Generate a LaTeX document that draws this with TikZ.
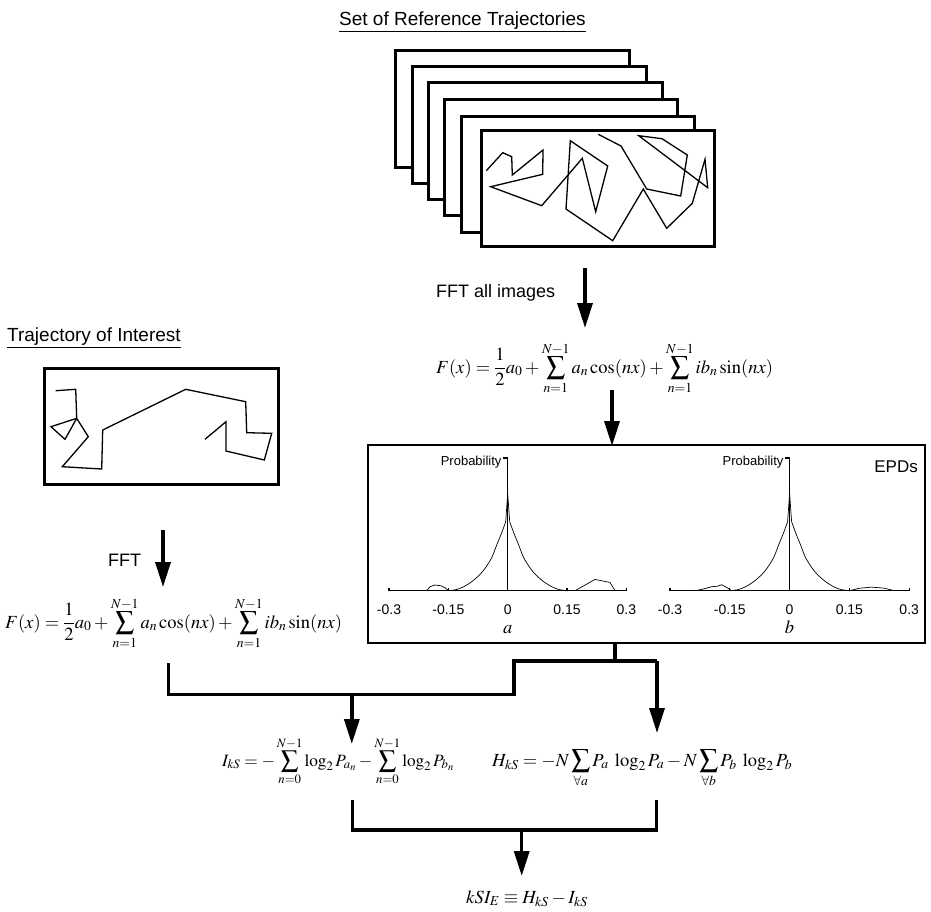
\documentclass[tikz,border=0pt]{standalone}
\usepackage{mathptmx}
\usepackage[no-math]{fontspec}
\newfontfamily\arialf{Liberation Sans}
\usetikzlibrary{arrows.meta}
\tikzset{
  frm/.style={draw=black, fill=white, line width=3pt},
  traj/.style={line width=1.3pt, line join=miter},
  conn/.style={line width=3.4pt, line join=miter},
  arr/.style={line width=3.4pt, -{Triangle[length=25pt,width=15pt]}},
  ttl/.style={font=\arialf\fontsize{19}{22}\selectfont, inner sep=0pt},
  lbl/.style={font=\arialf\fontsize{18}{21}\selectfont, inner sep=0pt},
  tick/.style={font=\arialf\fontsize{14}{16}\selectfont, inner sep=0pt, anchor=base},
  eq/.style={font=\fontsize{17}{20}\selectfont, inner sep=0pt},
  eqb/.style={font=\fontsize{18.5}{22}\selectfont, inner sep=0pt},
  axis/.style={line width=1.3pt},
  crv/.style={line width=0.7pt},
}
\begin{document}
\begin{tikzpicture}[x=1pt,y=-1pt]
\useasboundingbox (0,0) rectangle (931,911);

% ---------- titles ----------
\node[ttl, anchor=base west] (title1) at (339,25) {\underline{Set of Reference Trajectories}};
\node[ttl, anchor=base west] (title2) at (7,341) {\underline{Trajectory of Interest}};

% ---------- stack of frames ----------
\draw[frm] (395,50) rectangle (629,167);
\draw[frm] (412,66) rectangle (646,183);
\draw[frm] (428,82) rectangle (662,199);
\draw[frm] (444,99) rectangle (677,215);
\draw[frm] (461,116) rectangle (694,232);
\draw[frm] (481,130) rectangle (714,246);
\draw[traj] (486.3,170.7) -- (502.7,152.7) -- (511.7,156.7) -- (512.3,175) -- (543,150) -- (542.7,174.3)
  -- (490.7,186.7) -- (541.7,205.7) -- (582.3,158.3) -- (595.7,211.7) -- (607.7,166) -- (570.3,140.7)
  -- (566,209) -- (612.7,240.7) -- (643.3,189) -- (666.7,228.3) -- (692.3,203.3) -- (705,159.3)
  -- (707.7,187.7) -- (638.7,135.7) -- (662,138.7) -- (687.3,155) -- (680.7,196) -- (646.7,189)
  -- (621,146) -- (598.3,134.3);

% ---------- trajectory of interest ----------
\draw[frm] (44,368) rectangle (278,484);
\draw[traj] (55.7,390.7) -- (75.7,389.3) -- (76.7,418.3) -- (51,426.7) -- (65,439.3) -- (76.7,418.3)
  -- (88.3,436.7) -- (62.3,466.7) -- (101.7,469) -- (102.7,430) -- (185.7,389.3) -- (245.7,401.7)
  -- (246.7,432.7) -- (271.7,433.3) -- (264.3,460) -- (226,451) -- (226,421.7) -- (205,439.3);

% ---------- FFT arrows and formulas ----------
\node[lbl, anchor=base west] (fftall) at (436,297) {FFT all images};
\coordinate (a1s) at (585,268);
\coordinate (a1e) at (585,328);
\draw[arr] (a1s) -- (a1e);

\node[eqb, anchor=base west] (F1) at (436,373)
  {$\displaystyle F(x)=\frac{1}{2}a_0+\sum_{n=1}^{N-1}a_n\cos(nx)+\sum_{n=1}^{N-1}ib_n\sin(nx)$};

\node[lbl, anchor=base west] (fft) at (108,566) {FFT};
\coordinate (a2s) at (163,530);
\coordinate (a2e) at (163,587);
\draw[arr] (a2s) -- (a2e);

\node[eqb, anchor=base west] (F2) at (5,628)
  {$\displaystyle F(x)=\frac{1}{2}a_0+\sum_{n=1}^{N-1}a_n\cos(nx)+\sum_{n=1}^{N-1}ib_n\sin(nx)$};

% ---------- EPD box ----------
\coordinate (a3s) at (612,390);
\coordinate (a3e) at (612,446);
\draw[arr] (a3s) -- (a3e);
\draw[line width=2pt] (368,445) rectangle (925,643);
\node[font=\arialf\fontsize{17}{20}\selectfont, inner sep=0pt, anchor=base east] (epds) at (918,472) {EPDs};

% plot a
\begin{scope}[shift={(507.7,590.7)}]
  \draw[axis] (-118.7,0) -- (118.7,0);
  \draw[axis] (0,0) -- (0,-132.7) -- (-4.5,-132.7);
  \foreach \xx in {-118.7,-59.35,59.35,118.7} \draw[axis] (\xx,0) -- (\xx,-3);
  \node[font=\arialf\fontsize{13}{15}\selectfont, inner sep=0pt, anchor=base east] (proba) at (-6,-125) {Probability};
  \draw[crv] plot[smooth] coordinates {(-60,0) (-52,-1) (-45,-3.5) (-36,-9) (-28,-16) (-22.7,-22.3) (-16,-33) (-11,-45.7) (-6,-58) (-2,-69)}
     -- (0,-97) -- (2,-69);
  \draw[crv] plot[smooth] coordinates {(2,-69) (6,-58) (11,-45.7) (16,-33) (22.7,-22.3) (28,-16) (36,-9) (45,-3.5) (52,-1) (60,0)};
  \draw[crv] (-81,0) -- (-77.7,-4) -- (-72.7,-5.7) -- (-67,-5) -- (-62.7,-3) -- (-59.3,0);
  \draw[crv] (67.3,0) -- (78,-6) -- (87.3,-11.3) -- (102.3,-8.3) -- (107.3,0);
  \node[tick] (ta1) at (-118.7,24) {-0.3};
  \node[tick] (ta2) at (-59.35,24) {-0.15};
  \node[tick] (ta3) at (0,24) {0};
  \node[tick] (ta4) at (59.35,24) {0.15};
  \node[tick] (ta5) at (118.7,24) {0.3};
  \node[eqb, anchor=base] (la) at (0,43) {$a$};
\end{scope}

% plot b
\begin{scope}[shift={(789.6,590.7)}]
  \draw[axis] (-119.6,0) -- (119.6,0);
  \draw[axis] (0,0) -- (0,-132.7) -- (-4.5,-132.7);
  \foreach \xx in {-119.6,-59.8,59.8,119.6} \draw[axis] (\xx,0) -- (\xx,-3);
  \node[font=\arialf\fontsize{13}{15}\selectfont, inner sep=0pt, anchor=base east] (probb) at (-6,-125) {Probability};
  \draw[crv] plot[smooth] coordinates {(-60,0) (-52,-1) (-45,-3.5) (-36,-9) (-28,-16) (-22.7,-22.3) (-16,-33) (-11,-45.7) (-6,-58) (-2,-69)}
     -- (0,-97) -- (2,-69);
  \draw[crv] plot[smooth] coordinates {(2,-69) (6,-58) (11,-45.7) (16,-33) (22.7,-22.3) (28,-16) (36,-9) (45,-3.5) (52,-1) (60,0)};
  \draw[crv] (-94,0) -- (-85,-2) -- (-78,-4) -- (-72,-4.5) -- (-68,-6) -- (-64,-4) -- (-58,0);
  \draw[crv] (59.7,0) -- (70,-2.5) -- (82,-3.6) -- (95,-2.5) -- (104.6,0);
  \node[tick] (tb1) at (-119.6,24) {-0.3};
  \node[tick] (tb2) at (-59.8,24) {-0.15};
  \node[tick] (tb3) at (0,24) {0};
  \node[tick] (tb4) at (59.8,24) {0.15};
  \node[tick] (tb5) at (119.6,24) {0.3};
  \node[eqb, anchor=base] (lb) at (0,43) {$b$};
\end{scope}

% ---------- connectors ----------
\coordinate (epdbot) at (615,643);
\coordinate (j1) at (615,661);
\coordinate (j2) at (514,661);
\coordinate (j3) at (657,661);
\coordinate (j4) at (514,694.6);
\coordinate (j5) at (168.6,694.6);
\coordinate (j6) at (168.6,663);
\coordinate (m1) at (351.8,694.6);
\coordinate (m1e) at (351.8,744);
\coordinate (r1e) at (657,733);
\draw[conn] (epdbot) -- (j1);
\draw[conn] (j6) -- (j5) -- (j4) -- (j2) -- (j3);
\draw[arr] (j3) -- (r1e);
\draw[arr] (m1) -- (m1e);

\node[eq, font=\fontsize{17.3}{20}\selectfont, anchor=base west] (I) at (222,766)
  {$\displaystyle I_{kS}=-\sum_{n=0}^{N-1}\log_2 P_{a_n}-\sum_{n=0}^{N-1}\log_2 P_{b_n}$};
\node[eqb, anchor=base west] (H) at (492,766)
  {$\displaystyle H_{kS}=-N\sum_{\forall a}P_a\;\log_2 P_a-N\sum_{\forall b}P_b\;\log_2 P_b$};

\coordinate (k1) at (352.7,800);
\coordinate (k2) at (352.7,830);
\coordinate (k3) at (656.7,830);
\coordinate (k4) at (656.7,800);
\coordinate (k5) at (521.7,830);
\coordinate (k6) at (521.7,876);
\draw[conn] (k1) -- (k2) -- (k3) -- (k4);
\draw[arr] (k5) -- (k6);

\node[eqb, anchor=base west] (K) at (466,903) {$kSI_E\equiv H_{kS}-I_{kS}$};
\end{tikzpicture}
\end{document}
